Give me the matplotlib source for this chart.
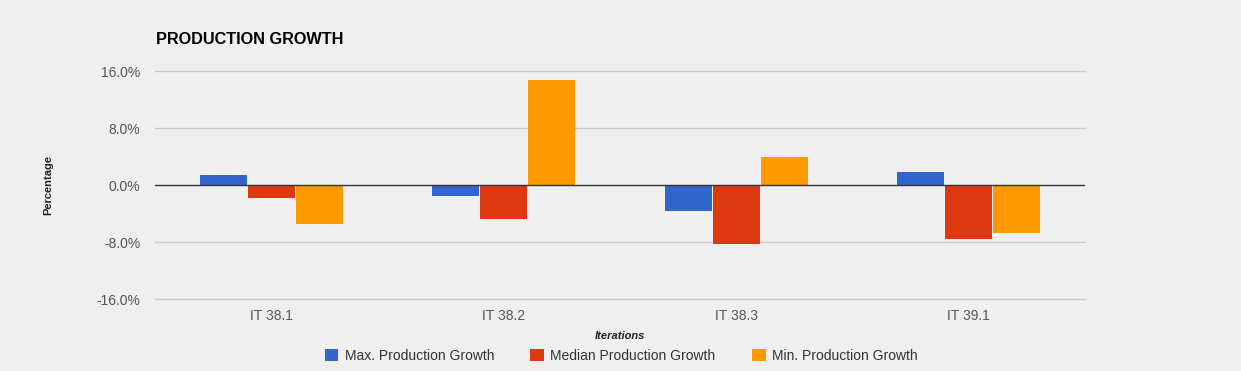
import matplotlib.pyplot as plt
import numpy as np

plt.rcParams['font.family'] = ['Liberation Sans', 'DejaVu Sans']

# data
iterations = ['IT 38.1', 'IT 38.2', 'IT 38.3', 'IT 39.1']
max_growth = [1.4, -1.5, -3.6, 1.8]
median_growth = [-1.8, -4.8, -8.3, -7.6]
min_growth = [-5.5, 14.7, 3.9, -6.7]
series_names = ['Max. Production Growth', 'Median Production Growth', 'Min. Production Growth']
colors = ['#3366cc', '#dc3912', '#ff9900']
yticks = [-16, -8, 0, 8, 16]

bg = '#efefef'
fig = plt.figure(figsize=(12.41, 3.71), dpi=100, facecolor=bg)
ax = fig.add_axes([0.1249, 0.194, 0.7494, 0.6146], facecolor=bg)

x = np.arange(len(iterations))
w = 0.202
for i, (vals, name, c) in enumerate(zip([max_growth, median_growth, min_growth], series_names, colors)):
    ax.bar(x + (i - 1) * (w + 0.0043), vals, width=w, color=c, label=name, zorder=3)

ax.set_xlim(-0.5, len(iterations) - 0.5)
ax.set_ylim(-16, 16)
ax.set_yticks(yticks)
ax.set_yticklabels([f'{v:.1f}%' for v in yticks])
ax.set_xticks(x)
ax.set_xticklabels(iterations)
ax.tick_params(axis='both', length=0, labelsize=10, labelcolor='#555555')
ax.tick_params(axis='y', pad=10.5)
ax.tick_params(axis='x', pad=7)
for v in yticks:
    if v != 0:
        ax.axhline(v, color='#cccccc', linewidth=1, zorder=0, clip_on=False)
ax.axhline(0, color='#333333', linewidth=1, zorder=4)
for s in ax.spines.values():
    s.set_visible(False)

fig.text(156 / 1241, 1 - 40 / 371, 'PRODUCTION GROWTH', fontsize=11.7, fontweight='bold',
         color='black', va='center', ha='left')
fig.text(48 / 1241, 1 - 185 / 371, 'Percentage', fontsize=8, fontweight='bold',
         rotation=90, va='center', ha='center', color='#222222')
fig.text(620 / 1241, 1 - 336 / 371, 'Iterations', fontsize=8, fontweight='bold',
         fontstyle='italic', va='center', ha='center', color='#222222')

fig.legend(loc='center', bbox_to_anchor=(621 / 1241, 1 - 356 / 371), ncol=3, frameon=False,
           fontsize=10, handlelength=1.0, handleheight=1.0, handletextpad=0.45,
           columnspacing=2.6, labelcolor='#333333')

fig.savefig('out.png', dpi=100, facecolor=bg)
